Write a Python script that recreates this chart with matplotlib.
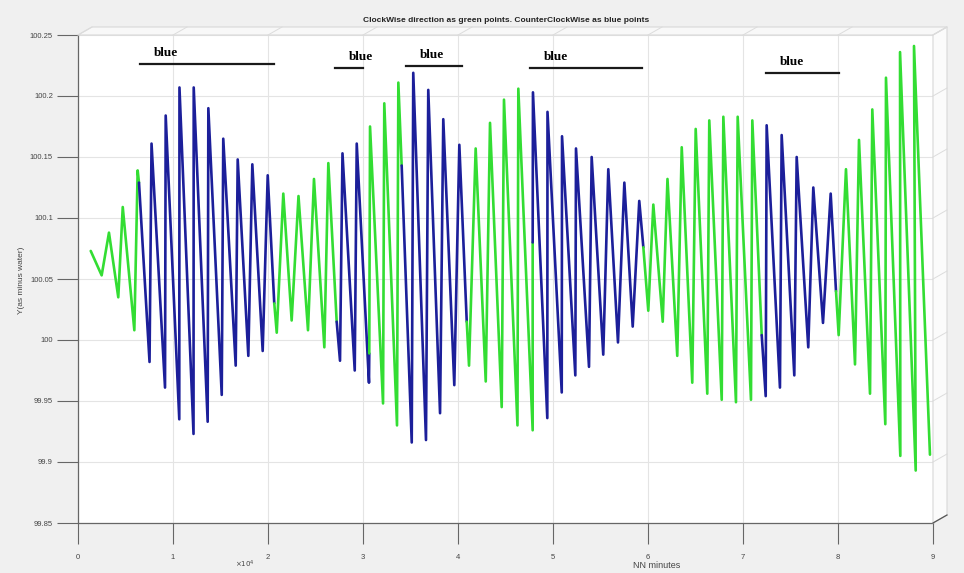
import matplotlib
matplotlib.use("Agg")
import matplotlib.pyplot as plt
from matplotlib.lines import Line2D
from matplotlib.patches import Polygon

# Extremos de la curva (x en unidades de 1e4 minutos, y = Y(as minus water))
x_vals = [0.134, 0.249, 0.326, 0.424, 0.471, 0.593, 0.628, 0.642,
          0.753, 0.774, 0.916, 0.923, 1.066, 1.068, 1.216, 1.218, 1.365, 1.372,
          1.513, 1.529, 1.660, 1.681, 1.793, 1.835, 1.944, 1.997, 2.066,
          2.092, 2.161, 2.249, 2.321, 2.421, 2.484, 2.593, 2.635, 2.723,
          2.758, 2.784, 2.913, 2.934, 3.063, 3.066,
          3.074, 3.211, 3.224, 3.358, 3.372, 3.407,
          3.513, 3.529, 3.663, 3.687, 3.811, 3.845, 3.961, 4.014, 4.092,
          4.116, 4.186, 4.292, 4.337, 4.460, 4.484, 4.626, 4.635, 4.786, 4.786,
          4.789, 4.940, 4.942, 5.092, 5.095, 5.235, 5.242, 5.379, 5.407, 5.529,
          5.582, 5.684, 5.751, 5.839, 5.908, 5.951,
          6.003, 6.056, 6.155, 6.205, 6.308, 6.355, 6.466, 6.502, 6.624, 6.645,
          6.776, 6.793, 6.926, 6.944, 7.084, 7.098, 7.197,
          7.239, 7.249, 7.389, 7.407, 7.540, 7.565, 7.687, 7.740, 7.842, 7.923, 7.979,
          8.007, 8.084, 8.179, 8.221, 8.337, 8.361, 8.498, 8.505, 8.656, 8.653,
          8.818, 8.800, 8.968]
y_vals = [100.073, 100.053, 100.088, 100.035, 100.109, 100.008, 100.139, 100.129,
          99.982, 100.161, 99.961, 100.184, 99.935, 100.207, 99.923, 100.207, 99.933, 100.190,
          99.955, 100.165, 99.979, 100.148, 99.987, 100.144, 99.991, 100.135, 100.030,
          100.006, 100.120, 100.016, 100.118, 100.008, 100.132, 99.994, 100.145, 100.015,
          99.983, 100.153, 99.975, 100.161, 99.965, 99.989,
          100.175, 99.948, 100.194, 99.930, 100.211, 100.143,
          99.916, 100.219, 99.918, 100.205, 99.940, 100.181, 99.963, 100.160, 100.015,
          99.979, 100.157, 99.966, 100.178, 99.945, 100.197, 99.930, 100.206, 99.926, 100.080,
          100.203, 99.936, 100.187, 99.957, 100.167, 99.971, 100.157, 99.978, 100.150, 99.988,
          100.140, 99.998, 100.129, 100.011, 100.114, 100.076,
          100.024, 100.111, 100.015, 100.132, 99.987, 100.158, 99.965, 100.173, 99.956, 100.180,
          99.951, 100.183, 99.949, 100.183, 99.951, 100.180, 100.004,
          99.954, 100.176, 99.961, 100.168, 99.971, 100.150, 99.994, 100.125, 100.014, 100.120, 100.040,
          100.004, 100.140, 99.980, 100.164, 99.956, 100.189, 99.931, 100.215, 99.905, 100.236,
          99.893, 100.241, 99.906]

# índices donde cambia el sentido (verde = horario, azul = antihorario)
switch_idx = [0, 7, 26, 35, 41, 47, 56, 66, 82, 99, 110, len(x_vals) - 1]
seg_colors = ["#33dd33", "#1c1f9a"]

# marcas "blue" de la parte superior: (x inicio, x fin, y)
blue_marks = [(0.653, 2.063, 100.226), (2.705, 3.000, 100.223), (3.453, 4.042, 100.225),
              (4.758, 5.937, 100.223), (7.242, 8.011, 100.219)]

y_ticks = [99.85, 99.9, 99.95, 100, 100.05, 100.1, 100.15, 100.2, 100.25]
x_ticks = list(range(0, 10))

W, H = 964, 573
fig = plt.figure(figsize=(W / 100, H / 100), dpi=100, facecolor="#f0f0f0")
plt.rcParams["font.family"] = ["Liberation Sans", "DejaVu Sans"]

L, R, T, B = 78, 933, 35, 523
ax = fig.add_axes([L / W, 1 - B / H, (R - L) / W, (B - T) / H])
ax.set_facecolor("white")


def fx(px):
    return px / W


def fy(py):
    return 1 - py / H


# caras superior y derecha de la caja 3D
dx, dy = 14, 8
top = Polygon([(fx(L), fy(T)), (fx(R), fy(T)), (fx(R + dx), fy(T - dy)), (fx(L + dx), fy(T - dy))],
              closed=True, transform=fig.transFigure, facecolor="#f8f8f8", edgecolor="#d8d8d8", lw=0.8)
fig.add_artist(top)
side = Polygon([(fx(R), fy(T)), (fx(R + dx), fy(T - dy)), (fx(R + dx), fy(B - dy)), (fx(R), fy(B))],
               closed=True, transform=fig.transFigure, facecolor="#fbfbfb", edgecolor="#d8d8d8", lw=0.8)
fig.add_artist(side)
for xt in x_ticks:
    px = L + (R - L) * xt / 9
    fig.add_artist(Line2D([fx(px), fx(px + dx)], [fy(T), fy(T - dy)], transform=fig.transFigure,
                          color="#dcdcdc", lw=0.7))
for yt in y_ticks:
    py = B - (B - T) * (yt - 99.85) / 0.4
    fig.add_artist(Line2D([fx(R), fx(R + dx)], [fy(py), fy(py - dy)], transform=fig.transFigure,
                          color="#dcdcdc", lw=0.7))
fig.add_artist(Line2D([fx(R), fx(R + dx)], [fy(B), fy(B - dy)], transform=fig.transFigure,
                      color="#555555", lw=0.9))

# curva coloreada por tramos
for k in range(len(switch_idx) - 1):
    a, b = switch_idx[k], switch_idx[k + 1]
    ax.plot(x_vals[a:b + 1], y_vals[a:b + 1], color=seg_colors[k % 2], lw=1.9,
            solid_joinstyle="round", solid_capstyle="round", zorder=3)

for x0, x1, yy in blue_marks:
    ax.plot([x0, x1], [yy, yy], color="#1a1a1a", lw=1.6, zorder=4)
    ax.text(x0 + 0.15, yy + 0.004, "blue", family="Liberation Serif", weight="bold",
            fontsize=9.5, color="black", ha="left", va="bottom", zorder=4)

ax.set_xlim(0, 9)
ax.set_ylim(99.85, 100.25)
ax.set_xticks(x_ticks)
ax.set_xticklabels([str(v) for v in x_ticks])
ax.set_yticks(y_ticks)
ax.set_yticklabels([f"{v:g}" for v in y_ticks])
ax.grid(True, color="#e4e4e4", lw=0.8)
ax.set_axisbelow(True)
ax.tick_params(axis="both", direction="out", length=15, width=0.8, color="#666666",
               labelsize=5.5, labelcolor="#444444")
ax.tick_params(axis="x", pad=7)
ax.tick_params(axis="y", pad=3)
for s in ["top", "right"]:
    ax.spines[s].set_visible(False)
for s in ["left", "bottom"]:
    ax.spines[s].set_color("#666666")
    ax.spines[s].set_linewidth(0.9)

fig.text(0.525, fy(21), "ClockWise direction as green points. CounterClockWise as blue points",
         ha="center", va="center", fontsize=6, weight="bold", color="#222222")
fig.text(fx(22), fy(280), "Y(as minus water)", rotation=90, ha="center", va="center",
         fontsize=6, color="#444444")
fig.text(fx(657), fy(566), "NN minutes", ha="center", va="center", fontsize=6.5, color="#444444")
fig.text(fx(245), fy(564), r"$\times10^4$", ha="center", va="center", fontsize=5, color="#444444")

fig.savefig("out.png", dpi=100, facecolor=fig.get_facecolor())
